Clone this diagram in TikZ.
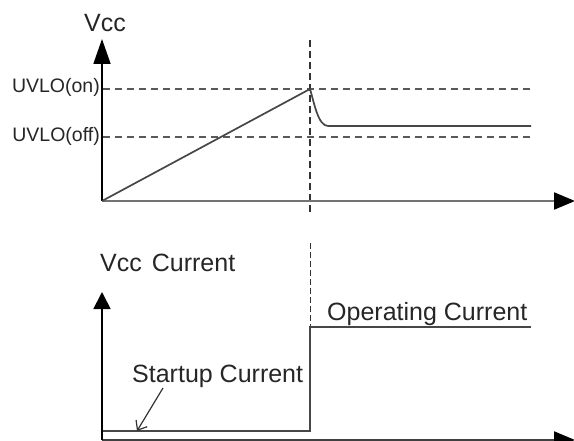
\documentclass[tikz,border=0pt]{standalone}
\usepackage{fontspec}
\setmainfont{Liberation Sans}
\usetikzlibrary{arrows.meta}
\begin{document}
\begin{tikzpicture}[x=1bp,y=-1bp,
  axisline/.style={line width=1.8bp,black},
  haxis/.style={line width=2.2bp,black!55},
  curve/.style={line width=1.7bp,black!72},
  guide/.style={line width=1.7bp,black!65,dash pattern=on 7bp off 5bp},
  vguide/.style={line width=1.3bp,black!80,dash pattern=on 7bp off 4bp},
  biglbl/.style={inner sep=0pt,font=\fontsize{25bp}{29bp}\selectfont,text=black!85},
  smalllbl/.style={inner sep=0pt,font=\fontsize{19.5bp}{23bp}\selectfont,text=black!85},
  tipv/.style={-{Triangle[length=25bp,width=17bp,black]}},
  tipv2/.style={-{Triangle[length=17bp,width=17bp,black]}},
  tiph/.style={-{Triangle[length=21bp,width=17bp,black]}}
]
\useasboundingbox (0,0) rectangle (574,441);
\clip (0,0) rectangle (574,441);
% ---------- top chart ----------
\coordinate (o1) at (102,201);
\coordinate (ytop1) at (102,39);
\coordinate (xend1) at (575,201);
\coordinate (on0) at (103,89);
\coordinate (on1) at (532,89);
\coordinate (off0) at (103,137);
\coordinate (off1) at (532,137);
\coordinate (vt) at (310,40);
\coordinate (vb) at (310,216);
\coordinate (peak) at (310,89);
\coordinate (settle) at (328,126);
\coordinate (flatend) at (531,126);

\draw[guide] (on0) -- (on1);
\draw[guide] (off0) -- (off1);
\draw[vguide] (vt) -- (vb);
\draw[haxis,tiph] (o1) -- (xend1);
\draw[axisline,tipv] (o1) -- (ytop1);
\draw[curve] (o1) -- (peak) .. controls (314,102) and (318,126) .. (settle) -- (flatend);

\node[biglbl,anchor=base west] (vcc) at (84,32) {Vcc};
\node[smalllbl,anchor=base east] (uon) at (100,93) {UVLO(on)};
\node[smalllbl,anchor=base east] (uoff) at (100,142) {UVLO(off)};

% ---------- bottom chart ----------
\coordinate (o2) at (102,440);
\coordinate (ytop2) at (102,292);
\coordinate (xend2) at (575,440);
\coordinate (s0) at (103,431);
\coordinate (s1) at (310,431);
\coordinate (s2) at (310,327);
\coordinate (s3) at (531,327);
\coordinate (vt2) at (310,243);
\coordinate (arrtip) at (137,431);

\draw[vguide,line width=1bp,dash pattern=on 6bp off 3bp] (vt2) -- (s2);
\draw[haxis,black!75,tiph] (o2) -- (xend2);
\draw[axisline,tipv2] (o2) -- (ytop2);
\draw[curve] (s0) -- (s1) -- (s2) -- (s3);

\node[biglbl,anchor=base west] (vcccur) at (100,272) {Vcc\hspace{0.4em}Current};
\node[biglbl,anchor=base west] (opcur) at (327,320) {Operating Current};
\node[biglbl,anchor=base west] (stcur) at (132,382) {Startup Current};

\draw[line width=1.2bp,black!80,-{Straight Barb[length=8bp,width=13bp]}] (163,388) -- (arrtip);
\end{tikzpicture}
\end{document}
